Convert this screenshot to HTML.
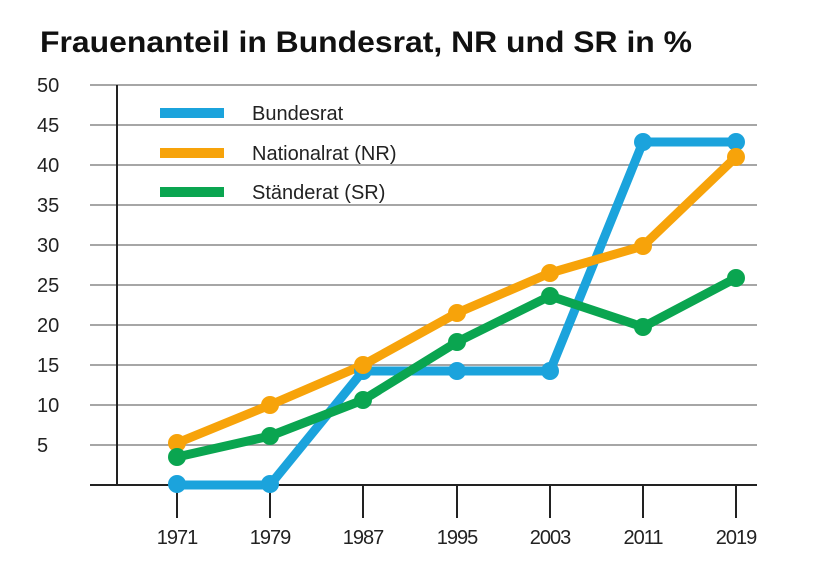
<!DOCTYPE html>
<html><head><meta charset="utf-8"><style>
body{margin:0;background:#fff;width:840px;height:560px;overflow:hidden}
text{font-family:"Liberation Sans",sans-serif;fill:#222}
</style></head><body>
<svg width="840" height="560" viewBox="0 0 840 560">
<text x="40" y="52" font-size="30" font-weight="bold" textLength="652" lengthAdjust="spacingAndGlyphs" style="fill:#111">Frauenanteil in Bundesrat, NR und SR in %</text>
<g stroke="#888" stroke-width="1.5">
<line x1="90" y1="85" x2="757" y2="85"/><line x1="90" y1="125" x2="757" y2="125"/>
<line x1="90" y1="165" x2="757" y2="165"/><line x1="90" y1="205" x2="757" y2="205"/>
<line x1="90" y1="245" x2="757" y2="245"/><line x1="90" y1="285" x2="757" y2="285"/>
<line x1="90" y1="325" x2="757" y2="325"/><line x1="90" y1="365" x2="757" y2="365"/>
<line x1="90" y1="405" x2="757" y2="405"/><line x1="90" y1="445" x2="757" y2="445"/>
</g>
<g stroke="#222" stroke-width="2">
<line x1="117" y1="85" x2="117" y2="485"/>
<line x1="90" y1="485" x2="757" y2="485"/>
<line x1="177" y1="485" x2="177" y2="518"/><line x1="270" y1="485" x2="270" y2="518"/>
<line x1="363" y1="485" x2="363" y2="518"/><line x1="457" y1="485" x2="457" y2="518"/>
<line x1="550" y1="485" x2="550" y2="518"/><line x1="643" y1="485" x2="643" y2="518"/>
<line x1="736" y1="485" x2="736" y2="518"/>
</g>
<g font-size="20">
<text x="37" y="92">50</text><text x="37" y="132">45</text><text x="37" y="172">40</text>
<text x="37" y="212">35</text><text x="37" y="252">30</text><text x="37" y="292">25</text>
<text x="37" y="332">20</text><text x="37" y="372">15</text><text x="37" y="412">10</text>
<text x="37" y="452">5</text>
</g>
<g font-size="20" text-anchor="middle" letter-spacing="-1">
<text x="177" y="544">1971</text><text x="270" y="544">1979</text><text x="363" y="544">1987</text>
<text x="457" y="544">1995</text><text x="550" y="544">2003</text><text x="643" y="544">2011</text>
<text x="736" y="544">2019</text>
</g>
<rect x="160" y="108" width="64" height="10" fill="#1ba3dc"/>
<rect x="160" y="148" width="64" height="10" fill="#f7a30a"/>
<rect x="160" y="187" width="64" height="10" fill="#0aa550"/>
<g font-size="20"><text x="252" y="120">Bundesrat</text><text x="252" y="160">Nationalrat (NR)</text><text x="252" y="199">Ständerat (SR)</text></g>
<g fill="none" stroke-width="9" stroke-linejoin="round">
<polyline stroke="#1ba3dc" points="177,485 270,485 363,371 457,371 550,371 643,142 736,142"/>
<polyline stroke="#f7a30a" points="177,443 270,405 363,365 457,313 550,273 643,246 736,157"/>
<polyline stroke="#0aa550" points="177,457 270,436 363,400 457,342 550,296 643,327 736,278"/>
</g>
<g fill="#1ba3dc"><circle cx="177" cy="484" r="9"/><circle cx="270" cy="484" r="9"/><circle cx="363" cy="371" r="9"/><circle cx="457" cy="371" r="9"/><circle cx="550" cy="371" r="9"/><circle cx="643" cy="142" r="9"/><circle cx="736" cy="142" r="9"/></g>
<g fill="#f7a30a"><circle cx="177" cy="443" r="9"/><circle cx="270" cy="405" r="9"/><circle cx="363" cy="365" r="9"/><circle cx="457" cy="313" r="9"/><circle cx="550" cy="273" r="9"/><circle cx="643" cy="246" r="9"/><circle cx="736" cy="157" r="9"/></g>
<g fill="#0aa550"><circle cx="177" cy="457" r="9"/><circle cx="270" cy="436" r="9"/><circle cx="363" cy="400" r="9"/><circle cx="457" cy="342" r="9"/><circle cx="550" cy="296" r="9"/><circle cx="643" cy="327" r="9"/><circle cx="736" cy="278" r="9"/></g>
</svg>
</body></html>
